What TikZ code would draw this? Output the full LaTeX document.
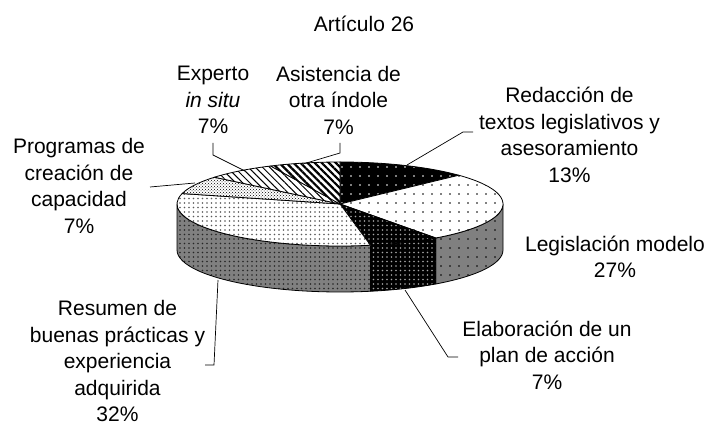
\documentclass[tikz,border=0pt]{standalone}
\usepackage{fontspec}
\setmainfont{Liberation Sans}
\usetikzlibrary{patterns,patterns.meta}
\newcommand\pieP[1]{({340+163*cos(#1)},{224+42*sin(#1)})}
\tikzset{
  rad/.style={x radius=163pt, y radius=42pt},
  edge/.style={draw=black, line width=0.8pt, line join=round},
  redac/.style={edge, preaction={fill=black}, pattern={Dots[distance=9pt,radius=0.9pt]}, pattern color=white},
  legtop/.style={edge, preaction={fill=white}, pattern={Dots[distance=9pt,radius=0.9pt]}, pattern color=black},
  legside/.style={edge, preaction={fill=black!50}, pattern={Dots[distance=9pt,radius=0.9pt]}, pattern color=black},
  elab/.style={edge, preaction={fill=black}, pattern={Dots[distance=4.5pt,radius=0.9pt]}, pattern color=black!35},
  restop/.style={edge, preaction={fill=white}, pattern={Dots[distance=4.5pt,radius=0.8pt]}, pattern color=black!65},
  resside/.style={edge, preaction={fill=black!50}, pattern={Dots[distance=4.5pt,radius=0.8pt]}, pattern color=black!85},
  prog/.style={edge, preaction={fill=white}, pattern=crosshatch dots, pattern color=black},
  expe/.style={edge, preaction={fill=white}, pattern={Lines[angle=-45,distance=5pt,line width=1pt]}, pattern color=black},
  asis/.style={edge, preaction={fill=white}, pattern={Lines[angle=-45,distance=5pt,line width=2.2pt]}, pattern color=black},
  lab/.style={align=center, inner sep=0pt, font=\fontsize{21}{26.5}\selectfont},
  lead/.style={draw=black, line width=0.7pt},
}
\begin{document}
\begin{tikzpicture}[x=1pt,y=1pt]
\useasboundingbox (0,0) rectangle (709,428);
\coordinate (C) at (340,224);
% side walls
\path[legside] \pieP{0} arc[start angle=0,end angle=-54,rad] -- ++(0,-46) arc[start angle=-54,end angle=0,rad] -- cycle;
\path[elab] \pieP{-54} arc[start angle=-54,end angle=-79.2,rad] -- ++(0,-46) arc[start angle=-79.2,end angle=-54,rad] -- cycle;
\path[resside] \pieP{-79.2} arc[start angle=-79.2,end angle=-180,rad] -- ++(0,-46) arc[start angle=-180,end angle=-79.2,rad] -- cycle;
% top slices
\path[redac] (C) -- \pieP{90} arc[start angle=90,end angle=43.2,rad] -- cycle;
\path[legtop] (C) -- \pieP{43.2} arc[start angle=43.2,end angle=-54,rad] -- cycle;
\path[elab] (C) -- \pieP{-54} arc[start angle=-54,end angle=-79.2,rad] -- cycle;
\path[restop] (C) -- \pieP{-79.2} arc[start angle=-79.2,end angle=-194.4,rad] -- cycle;
\path[prog] (C) -- \pieP{-194.4} arc[start angle=-194.4,end angle=-219.6,rad] -- cycle;
\path[expe] (C) -- \pieP{-219.6} arc[start angle=-219.6,end angle=-244.8,rad] -- cycle;
\path[asis] (C) -- \pieP{-244.8} arc[start angle=-244.8,end angle=-270,rad] -- cycle;
% labels
\node[lab] (title) at (364,404) {Artículo 26};
\node[lab] (lexp) at (213,328) {Experto\\\textit{in situ}\\7\%};
\node[lab] (lasi) at (338.5,328) {Asistencia de\\otra índole\\7\%};
\node[lab] (lred) at (569.5,293) {Redacción de\\textos legislativos y\\asesoramiento\\13\%};
\node[lab] (lprog) at (79,242) {Programas de\\creación de\\capacidad\\7\%};
\node[lab] (lleg) at (615,171) {Legislación modelo\\27\%};
\node[lab] (lelab) at (547,73) {Elaboración de un\\plan de acción\\7\%};
\node[lab] (lres) at (117.5,67) {Resumen de\\buenas prácticas y\\experiencia\\adquirida\\32\%};
% leader coordinates
\coordinate (e1) at (213,285); \coordinate (e2) at (213,273); \coordinate (e3) at (245,257);
\coordinate (a1) at (340,285); \coordinate (a2) at (340,275); \coordinate (a3) at (303,264);
\coordinate (r1) at (473,296); \coordinate (r2) at (463,296); \coordinate (r3) at (407,263);
\coordinate (p1) at (150,241); \coordinate (p2) at (195,245);
\coordinate (s1) at (205,63); \coordinate (s2) at (214,63); \coordinate (s3) at (218,148);
\coordinate (b1) at (458,71); \coordinate (b2) at (448,71); \coordinate (b3) at (405,138);
\draw[lead] (e1) -- (e2) -- (e3);
\draw[lead] (a1) -- (a2) -- (a3);
\draw[lead] (r1) -- (r2) -- (r3);
\draw[lead] (p1) -- (p2);
\draw[lead] (s1) -- (s2) -- (s3);
\draw[lead] (b1) -- (b2) -- (b3);
\end{tikzpicture}
\end{document}
